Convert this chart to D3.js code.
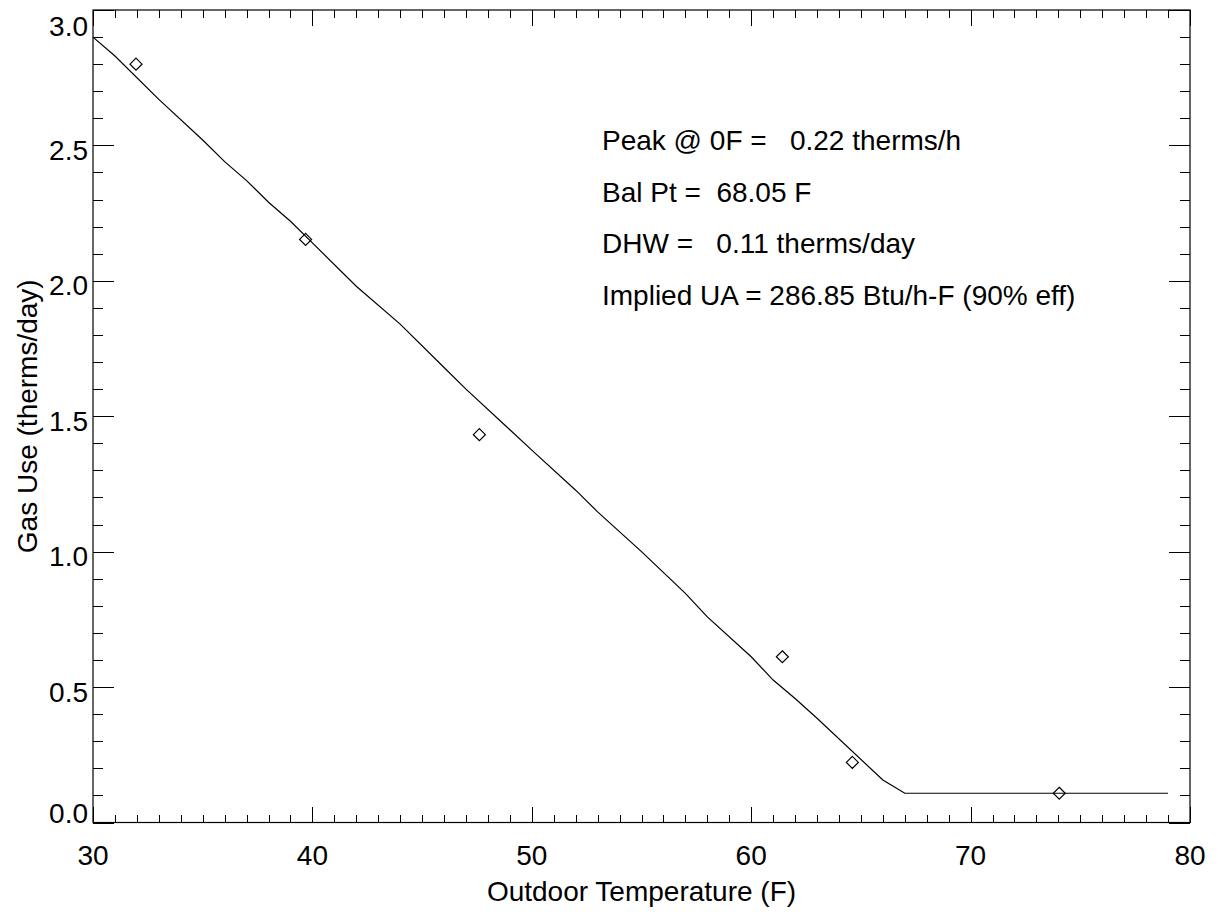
<!DOCTYPE html>
<html>
<head>
<meta charset="utf-8">
<script src="https://cdn.jsdelivr.net/npm/d3@7"></script>
<style>
  body { margin: 0; background: #fff; }
  svg { display: block; }
  text { font-family: "Liberation Sans", Arial, Helvetica, sans-serif; fill: #000; }
</style>
</head>
<body>
<div id="chart"></div>
<script>
// observed points (outdoor temp F, gas use therms/day)
const obsTemp = [31.96, 39.69, 47.61, 61.42, 64.61, 74.04];
const obsGas = [2.80, 2.153, 1.432, 0.612, 0.222, 0.108];

// fitted model line, vertices
const fitTemp = [30, 31, 33, 35, 36, 37, 38, 39, 40, 42, 44, 46, 47, 49, 50, 52, 53, 55, 57, 58, 60, 61, 62, 63, 66, 67, 79];
const fitGas = [2.90, 2.83, 2.67, 2.52, 2.44, 2.37, 2.29, 2.22, 2.14, 1.98, 1.84, 1.68, 1.60, 1.45, 1.375, 1.227, 1.147, 1.0, 0.846, 0.759, 0.612, 0.526, 0.458, 0.385, 0.157, 0.108, 0.108];

const xTicks = [30, 40, 50, 60, 70, 80];
const yTicks = [0.0, 0.5, 1.0, 1.5, 2.0, 2.5, 3.0];

const notes = [
  "Peak @ 0F =   0.22 therms/h",
  "Bal Pt =  68.05 F",
  "DHW =   0.11 therms/day",
  "Implied UA = 286.85 Btu/h-F (90% eff)"
];

const W = 1218, H = 915;
const plot = { left: 93, right: 1190, top: 10, bottom: 822.5 };
const fontSize = "28px";

const svg = d3.select("#chart").append("svg")
  .attr("width", W)
  .attr("height", H);

const x = d3.scaleLinear().domain([30, 80]).range([plot.left, plot.right]);
const y = d3.scaleLinear().domain([0, 3]).range([plot.bottom, plot.top]);

// tick marks (inward, mirrored on all four sides)
const xMinor = d3.range(30, 80.001, 1);
const yMinor = d3.range(0, 3.0001, 0.1);
const isMajorX = v => Math.abs(v % 10) < 1e-6;
const isMajorY = v => Math.abs(Math.round(v * 10) % 5) === 0;

const ticks = svg.append("g").attr("stroke", "#000").attr("stroke-width", 1).attr("shape-rendering", "crispEdges");

xMinor.forEach(v => {
  const len = isMajorX(v) ? 16 : 8;
  const px = Math.round(x(v)) + 0.5;
  ticks.append("line").attr("x1", px).attr("x2", px).attr("y1", plot.bottom).attr("y2", plot.bottom - len);
  ticks.append("line").attr("x1", px).attr("x2", px).attr("y1", plot.top).attr("y2", plot.top + len);
});

yMinor.forEach(v => {
  const len = isMajorY(v) ? 21 : 10;
  const py = Math.round(y(v)) + 0.5;
  ticks.append("line").attr("x1", plot.left).attr("x2", plot.left + len).attr("y1", py).attr("y2", py);
  ticks.append("line").attr("x1", plot.right).attr("x2", plot.right - len).attr("y1", py).attr("y2", py);
});

// frame
svg.append("rect")
  .attr("x", plot.left).attr("y", plot.top)
  .attr("width", plot.right - plot.left).attr("height", plot.bottom - plot.top)
  .attr("fill", "none")
  .attr("stroke", "#000")
  .attr("stroke-width", 1.2);

// tick labels
svg.append("g").selectAll("text")
  .data(xTicks)
  .enter().append("text")
  .attr("x", d => x(d))
  .attr("y", 865)
  .attr("text-anchor", "middle")
  .style("font-size", fontSize)
  .text(d => d);

svg.append("g").selectAll("text")
  .data(yTicks)
  .enter().append("text")
  .attr("x", 88)
  .attr("y", d => Math.max(plot.top + 26, Math.min(plot.bottom, y(d) + 14.5)))
  .attr("text-anchor", "end")
  .style("font-size", fontSize)
  .text(d => d3.format(".1f")(d));

// axis titles
svg.append("text")
  .attr("x", (plot.left + plot.right) / 2)
  .attr("y", 901)
  .attr("text-anchor", "middle")
  .style("font-size", fontSize)
  .text("Outdoor Temperature (F)");

svg.append("text")
  .attr("transform", `translate(37, ${(plot.top + plot.bottom) / 2}) rotate(-90)`)
  .attr("text-anchor", "middle")
  .style("font-size", fontSize)
  .text("Gas Use (therms/day)");

// fitted line
const fit = fitTemp.map((t, i) => [t, fitGas[i]]);
svg.append("path")
  .datum(fit)
  .attr("fill", "none")
  .attr("stroke", "#000")
  .attr("stroke-width", 1.2)
  .attr("d", d3.line().x(d => x(d[0])).y(d => y(d[1])));

// observed points as diamonds
const obs = obsTemp.map((t, i) => [t, obsGas[i]]);
svg.append("g").selectAll("path")
  .data(obs)
  .enter().append("path")
  .attr("transform", d => `translate(${x(d[0])}, ${y(d[1])})`)
  .attr("d", "M0,-6L6,0L0,6L-6,0Z")
  .attr("fill", "none")
  .attr("stroke", "#000")
  .attr("stroke-width", 1.2);

// fit summary
svg.append("g").selectAll("text")
  .data(notes)
  .enter().append("text")
  .attr("x", 602)
  .attr("y", (d, i) => 150 + i * 51.5)
  .attr("xml:space", "preserve")
  .style("white-space", "pre")
  .style("font-size", fontSize)
  .text(d => d);
</script>
</body>
</html>
